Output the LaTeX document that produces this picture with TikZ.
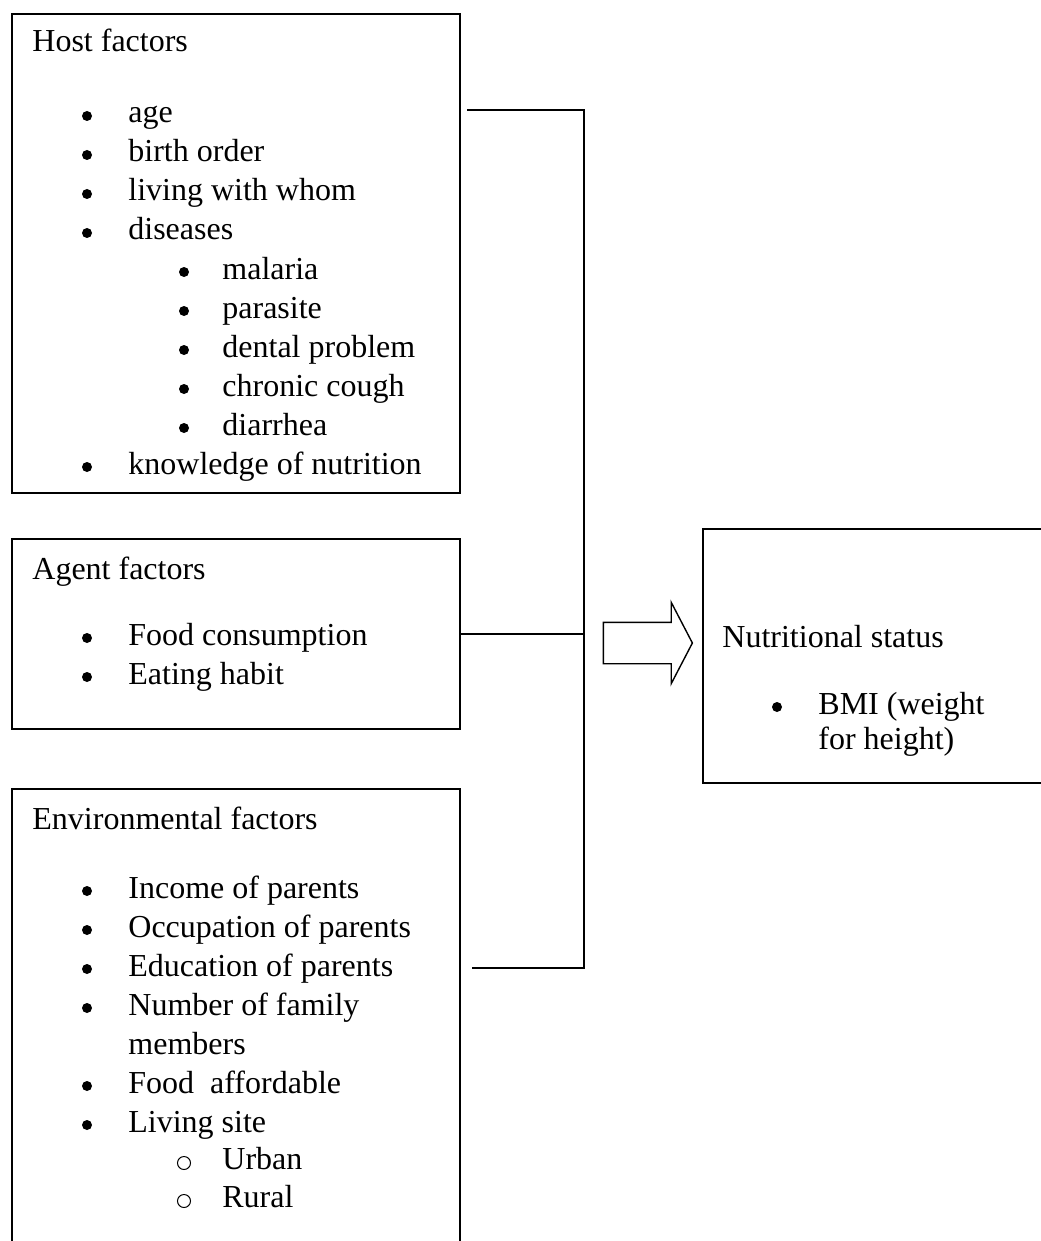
\documentclass[tikz,border=0pt]{standalone}
\usepackage{fontspec}
\setmainfont{Liberation Serif}
\usetikzlibrary{shapes.arrows}

\begin{document}
\begin{tikzpicture}[
  x=0.5pt, y=-0.5pt,
  font=\fontsize{16}{19.5}\selectfont,
  box/.style={draw, line width=1pt, anchor=north west, inner sep=0pt},
  txt/.style={anchor=base west, inner sep=0pt},
  dot/.style={circle, fill, inner sep=0pt, minimum size=5pt},
  ring/.style={circle, draw, line width=0.5pt, inner sep=0pt, minimum size=6.5pt},
  link/.style={line width=1pt}
]
\useasboundingbox (0,0) rectangle (1040,1241);

% boxes
\node[box, minimum width=224pt, minimum height=239.5pt] (host) at (11,13) {};
\node[box, minimum width=224pt, minimum height=95pt] (agent) at (11,538) {};
\node[box, minimum width=224pt, minimum height=231pt] (env) at (11,788) {};
\node[box, minimum width=174pt, minimum height=127pt] (status) at (702,528) {};

% host factors
\node[txt] (hosttitle) at (32,52) {Host factors};
\foreach \t [count=\i] in {age, birth order, living with whom, diseases} {
  \node[dot] (hb\i) at (87,{116+39*(\i-1)}) {};
  \node[txt] (ht\i) at (128,{123+39*(\i-1)}) {\t};
}
\foreach \t [count=\i] in {malaria, parasite, dental problem, chronic cough, diarrhea} {
  \node[dot] (hd\i) at (184,{272+39*(\i-1)}) {};
  \node[txt] (hs\i) at (222,{279+39*(\i-1)}) {\t};
}
\node[dot] (hb5) at (87,467) {};
\node[txt] (ht5) at (128,474) {knowledge of nutrition};

% agent factors
\node[txt] (agenttitle) at (32,579) {Agent factors};
\foreach \t [count=\i] in {Food consumption, Eating habit} {
  \node[dot] (ab\i) at (87,{638+39*(\i-1)}) {};
  \node[txt] (at\i) at (128,{645+39*(\i-1)}) {\t};
}

% environmental factors
\node[txt] (envtitle) at (32,829) {Environmental factors};
\foreach \t [count=\i] in {Income of parents, Occupation of parents, Education of parents, Number of family} {
  \node[dot] (eb\i) at (87,{891+39*(\i-1)}) {};
  \node[txt] (et\i) at (128,{898+39*(\i-1)}) {\t};
}
\node[txt] (et4b) at (128,1054) {members};
\node[dot] (eb5) at (87,1086) {};
\node[txt] (et5) at (128,1093) {Food\ \ affordable};
\node[dot] (eb6) at (87,1125) {};
\node[txt] (et6) at (128,1132) {Living site};
\foreach \t [count=\i] in {Urban, Rural} {
  \node[ring] (eo\i) at (184,{1163+38*(\i-1)}) {};
  \node[txt] (es\i) at (222,{1169+38*(\i-1)}) {\t};
}

% outcome
\node[txt] (statustitle) at (722,647) {Nutritional status};
\node[dot] (sb1) at (777,707) {};
\node[txt] (st1) at (818,714) {BMI (weight};
\node[txt] (st1b) at (818,749) {for height)};

% connectors
\coordinate (hostin) at (467,110);
\coordinate (envin) at (472,968);
\coordinate (bus) at (584,110);
\draw[link] (hostin) -- (bus) -- (bus |- envin) -- (envin);
\draw[link] (agent.east) -- (agent.east -| bus);

\node[draw, line width=0.7pt, single arrow, inner xsep=0pt, inner ysep=10pt,
  minimum height=44.5pt, minimum width=40pt, single arrow head extend=10pt,
  single arrow tip angle=125] (arrow) at (642.5,643) {};
\end{tikzpicture}
\end{document}
